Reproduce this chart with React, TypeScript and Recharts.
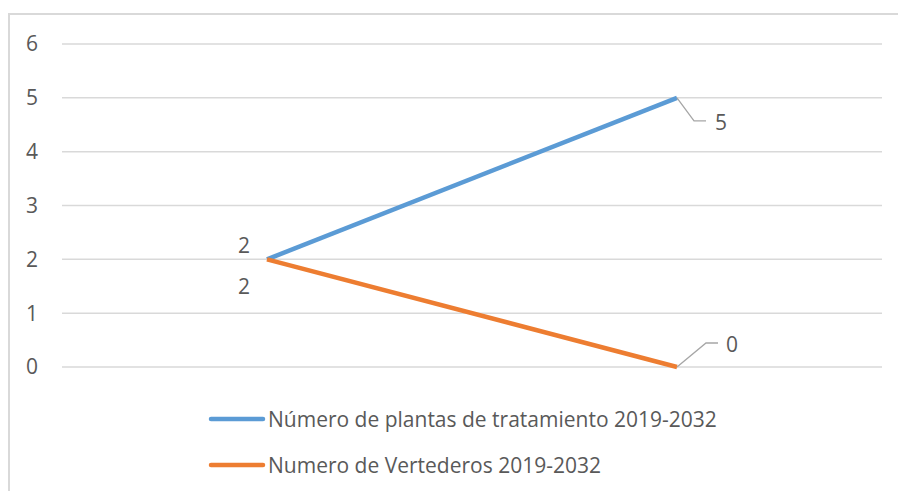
import { LineChart, Line, XAxis, YAxis, CartesianGrid, Legend, LabelList } from "recharts";

const categories = ["2019", "2032"];
const plantas = [2, 5];
const vertederos = [2, 0];
const yTicks = [0, 1, 2, 3, 4, 5, 6];

const SERIES = [
  { key: "plantas", name: "Número de plantas de tratamiento 2019-2032", color: "#5b9bd5" },
  { key: "vertederos", name: "Numero de Vertederos 2019-2032", color: "#ed7d31" },
];

const data = categories.map((c, i) => ({
  cat: c,
  plantas: plantas[i],
  vertederos: vertederos[i],
}));

const FONT = "'Open Sans', sans-serif";
const TEXT = "#595959";
const LEADER = "#a6a6a6";
const FS = 21;

function PlantasLabel(props: any) {
  const { x, y, value, index } = props;
  if (index === 0) {
    return (
      <text x={x - 23} y={y - 14} textAnchor="middle" dominantBaseline="central" fontSize={FS} fill={TEXT} fontFamily={FONT}>
        {value}
      </text>
    );
  }
  return (
    <g>
      <polyline points={`${x},${y} ${x + 17},${y + 23} ${x + 29},${y + 23}`} fill="none" stroke={LEADER} strokeWidth={1.3} />
      <text x={x + 44} y={y + 24} textAnchor="middle" dominantBaseline="central" fontSize={FS} fill={TEXT} fontFamily={FONT}>
        {value}
      </text>
    </g>
  );
}

function VertederosLabel(props: any) {
  const { x, y, value, index } = props;
  if (index === 0) {
    return (
      <text x={x - 23} y={y + 27} textAnchor="middle" dominantBaseline="central" fontSize={FS} fill={TEXT} fontFamily={FONT}>
        {value}
      </text>
    );
  }
  return (
    <g>
      <polyline points={`${x},${y} ${x + 29},${y - 24} ${x + 41},${y - 24}`} fill="none" stroke={LEADER} strokeWidth={1.3} />
      <text x={x + 55} y={y - 23} textAnchor="middle" dominantBaseline="central" fontSize={FS} fill={TEXT} fontFamily={FONT}>
        {value}
      </text>
    </g>
  );
}

function LegendContent() {
  return (
    <div style={{ fontFamily: FONT, fontSize: FS, color: TEXT }}>
      {SERIES.map((s) => (
        <div key={s.key} style={{ display: "flex", alignItems: "center", height: 46 }}>
          <svg width={58} height={10} style={{ marginRight: 2 }}>
            <line x1={3} y1={5} x2={55} y2={5} stroke={s.color} strokeWidth={4.5} strokeLinecap="round" />
          </svg>
          <span>{s.name}</span>
        </div>
      ))}
    </div>
  );
}

export default function App() {
  return (
    <div style={{ position: "fixed", inset: 0, overflow: "hidden", background: "#fff" }}>
      <div
        style={{
          position: "absolute",
          left: 8,
          top: 13,
          width: 900,
          height: 500,
          border: "2px solid #d9d9d9",
          boxSizing: "border-box",
        }}
      />
      <div style={{ position: "absolute", left: 0, top: 0 }}>
        <LineChart width={898} height={491} data={data} margin={{ top: 44, right: 16, bottom: 124, left: 0 }}>
          <CartesianGrid vertical={false} stroke="#d9d9d9" strokeWidth={1.5} />
          <XAxis dataKey="cat" hide padding={{ left: 205, right: 205 }} />
          <YAxis
            width={62}
            domain={[0, 6]}
            ticks={yTicks}
            axisLine={false}
            tickLine={false}
            tickSize={0}
            tickMargin={24}
            tick={{ fontSize: FS, fill: TEXT, fontFamily: FONT }}
          />
          <Legend
            content={<LegendContent />}
            layout="vertical"
            verticalAlign="middle"
            align="center"
            wrapperStyle={{ left: 208, top: 396, width: 600 }}
          />
          {SERIES.map((s) => (
            <Line
              key={s.key}
              dataKey={s.key}
              name={s.name}
              stroke={s.color}
              strokeWidth={4.5}
              dot={false}
              activeDot={false}
              isAnimationActive={false}
            >
              <LabelList dataKey={s.key} content={s.key === "plantas" ? <PlantasLabel /> : <VertederosLabel />} />
            </Line>
          ))}
        </LineChart>
      </div>
    </div>
  );
}
